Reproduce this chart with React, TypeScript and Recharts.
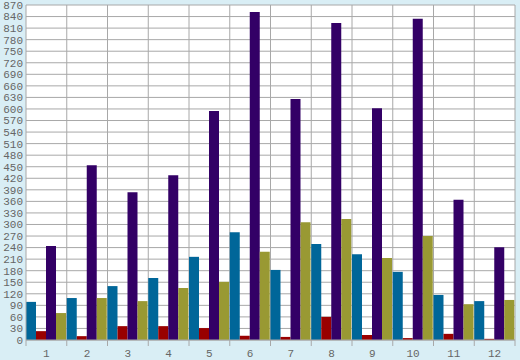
import React from "react";
import { BarChart, Bar, XAxis, YAxis, CartesianGrid } from "recharts";

const categories = ["1", "2", "3", "4", "5", "6", "7", "8", "9", "10", "11", "12"];
const blueValues = [99, 109, 140, 161, 216, 280, 182, 249, 223, 177, 117, 101];
const redValues = [23, 10, 36, 36, 31, 11, 8, 60, 13, 5, 16, 3];
const purpleValues = [244, 454, 384, 428, 595, 852, 626, 823, 602, 834, 364, 241];
const oliveValues = [70, 109, 101, 135, 151, 229, 306, 314, 213, 270, 93, 104];
const yTicks = [
  0, 30, 60, 90, 120, 150, 180, 210, 240, 270, 300, 330, 360, 390, 420, 450,
  480, 510, 540, 570, 600, 630, 660, 690, 720, 750, 780, 810, 840, 870,
];

const data = categories.map((name, i) => ({
  name,
  blue: blueValues[i],
  red: redValues[i],
  purple: purpleValues[i],
  olive: oliveValues[i],
}));

const W = 520;
const H = 360;
const LEFT = 26;
const RIGHT = 5;
const band = (W - LEFT - RIGHT) / categories.length;
const gridColor = "#A8A8A8";
const textColor = "#666";
const font = "Liberation Mono";

// x-axis tick: label in the middle of the band, tick mark on the band edge
const XTick = (props: any) => {
  const { x, y, payload, index } = props;
  const axisY = y - 9;
  return (
    <g>
      {index === 0 && (
        <line x1={x - band / 2} x2={x - band / 2} y1={axisY} y2={axisY + 6} stroke={gridColor} />
      )}
      <line x1={x + band / 2} x2={x + band / 2} y1={axisY} y2={axisY + 6} stroke={gridColor} />
      <text x={x} y={y} dy="0.71em" textAnchor="middle" fill={textColor} fontSize={11} fontFamily={font}>
        {payload.value}
      </text>
    </g>
  );
};

export default function App() {
  return (
    <div style={{ position: "absolute", left: 0, top: 0, width: W, height: H, background: "#D9EEF5" }}>
      <BarChart
        width={W}
        height={H}
        data={data}
        margin={{ top: 5, right: RIGHT, left: 0, bottom: 0 }}
        barCategoryGap={0}
        barGap={0}
      >
        <CartesianGrid
          fill="#fff"
          stroke={gridColor}
          verticalCoordinatesGenerator={({ offset }: any) =>
            categories.map((_, i) => offset.left + (i + 1) * (offset.width / categories.length))
          }
        />
        <XAxis
          dataKey="name"
          height={20}
          tickLine={false}
          tickSize={6}
          tickMargin={3}
          axisLine={{ stroke: gridColor }}
          tick={<XTick />}
          interval={0}
        />
        <YAxis
          width={LEFT}
          domain={[0, 870]}
          ticks={yTicks}
          interval={0}
          tickLine={false}
          tickSize={2}
          tickMargin={1}
          axisLine={{ stroke: gridColor }}
          tick={{ fill: textColor, fontSize: 11, fontFamily: font }}
        />
        <Bar dataKey="blue" fill="#006699" isAnimationActive={false} />
        <Bar dataKey="red" fill="#990000" isAnimationActive={false} />
        <Bar dataKey="purple" fill="#330066" isAnimationActive={false} />
        <Bar dataKey="olive" fill="#999933" isAnimationActive={false} />
      </BarChart>
    </div>
  );
}
